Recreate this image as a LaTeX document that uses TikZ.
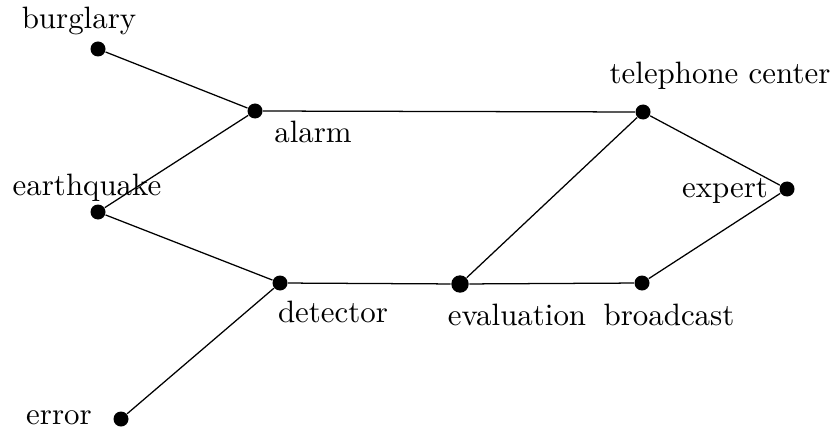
\documentclass[tikz,border=0pt]{standalone}
\begin{document}
\begin{tikzpicture}[x=0.3333pt,y=-0.3333pt,
  dot/.style={circle,fill=black,inner sep=0pt,minimum size=5pt},
  bigdot/.style={circle,fill=black,inner sep=0pt,minimum size=5.8pt},
  lbl/.style={anchor=base,inner sep=0pt,font=\fontsize{10.3}{12}\selectfont},
  edge/.style={line width=0.42pt}]
\useasboundingbox (0,0) rectangle (834,429);
\node[dot] (burglary) at (98,49) {};
\node[dot] (alarm) at (255,111) {};
\node[dot] (earthquake) at (98,212) {};
\node[dot] (detector) at (280,283) {};
\node[dot] (error) at (121,419) {};
\node[bigdot] (evaluation) at (460,284) {};
\node[dot] (broadcast) at (642,283) {};
\node[dot] (telephone) at (643,112) {};
\node[dot] (expert) at (787,189) {};
\node[lbl] (lburglary) at (79,29) {burglary};
\node[lbl] (lalarm) at (313,143) {alarm};
\node[lbl] (learthquake) at (87,195) {earthquake};
\node[lbl] (ldetector) at (333,322) {detector};
\node[lbl] (lerror) at (59,424) {error};
\node[lbl] (levaluation) at (517,325) {evaluation};
\node[lbl] (lbroadcast) at (669,325) {broadcast};
\node[lbl] (ltelephone) at (720,84) {telephone center};
\node[lbl] (lexpert) at (725,197) {expert};
\draw[edge] (burglary) -- (alarm);
\draw[edge] (alarm) -- (earthquake);
\draw[edge] (alarm) -- (telephone);
\draw[edge] (earthquake) -- (detector);
\draw[edge] (detector) -- (error);
\draw[edge] (detector) -- (evaluation);
\draw[edge] (evaluation) -- (telephone);
\draw[edge] (evaluation) -- (broadcast);
\draw[edge] (broadcast) -- (expert);
\draw[edge] (telephone) -- (expert);
\end{tikzpicture}
\end{document}
